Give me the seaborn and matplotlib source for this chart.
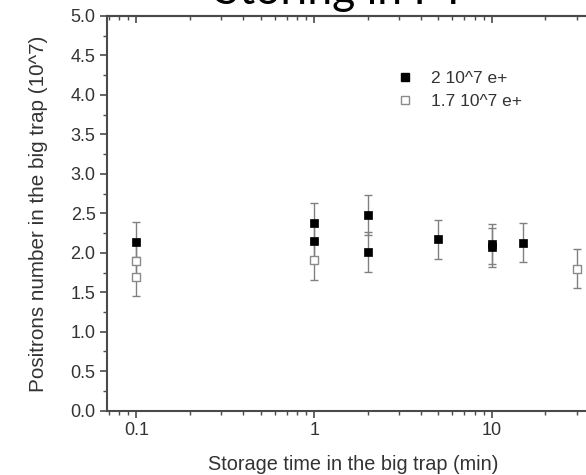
import numpy as np
import pandas as pd
import matplotlib
matplotlib.use("Agg")
import matplotlib.pyplot as plt
import seaborn as sns
from matplotlib.ticker import LogLocator, MultipleLocator, FixedLocator, NullFormatter
from matplotlib.lines import Line2D

# ---- data ----
filled_time = [0.1, 1, 1, 2, 2, 5, 10, 10, 15]
filled_n = [2.14, 2.38, 2.15, 2.48, 2.01, 2.17, 2.11, 2.07, 2.13]
filled_err = [0.25, 0.25, 0.25, 0.25, 0.25, 0.25, 0.25, 0.25, 0.25]

open_time = [0.1, 0.1, 1, 30]
open_n = [1.90, 1.70, 1.91, 1.80]
open_err = [0.25, 0.25, 0.25, 0.25]

x_ticks = [0.1, 1, 10]
x_ticklabels = ["0.1", "1", "10"]

df_filled = pd.DataFrame({"time": filled_time, "n": filled_n, "err": filled_err})
df_open = pd.DataFrame({"time": open_time, "n": open_n, "err": open_err})

sns.set_style("ticks")
plt.rcParams['font.family'] = ['Liberation Sans', 'DejaVu Sans']

W, H = 586, 475
fig = plt.figure(figsize=(W / 100, H / 100), dpi=100)

xmin, xmax = 0.068, 40
decade_px = 177.7
left_px, bottom_px, top_px = 106.7, 410.7, 16
width_px = np.log10(xmax / xmin) * decade_px
ax = fig.add_axes([left_px / W, 1 - bottom_px / H, width_px / W, (bottom_px - top_px) / H])

axis_col = "#4a4a4a"
err_col = "#808080"
text_col = "#333333"

# error bars first
ax.errorbar(df_open["time"], df_open["n"], yerr=df_open["err"], fmt="none",
            ecolor=err_col, elinewidth=1.0, capsize=3, capthick=1.0, zorder=2)
ax.errorbar(df_filled["time"], df_filled["n"], yerr=df_filled["err"], fmt="none",
            ecolor=err_col, elinewidth=1.0, capsize=3, capthick=1.0, zorder=2)

sns.scatterplot(data=df_open, x="time", y="n", ax=ax, marker="s", s=28,
                facecolor="white", edgecolor="#8a8a8a", linewidth=1.0, zorder=3)
sns.scatterplot(data=df_filled, x="time", y="n", ax=ax, marker="s", s=30,
                color="black", edgecolor="black", linewidth=0.5, zorder=4)

ax.set_xscale("log")
ax.set_xlim(xmin, xmax)
ax.set_ylim(0, 5.0)

ax.xaxis.set_major_locator(FixedLocator(x_ticks))
ax.set_xticklabels(x_ticklabels)
ax.xaxis.set_minor_locator(LogLocator(base=10, subs=np.arange(2, 10)))
ax.xaxis.set_minor_formatter(NullFormatter())
ax.yaxis.set_major_locator(MultipleLocator(0.5))
ax.yaxis.set_minor_locator(MultipleLocator(0.25))
ax.yaxis.set_major_formatter(matplotlib.ticker.FormatStrFormatter("%.1f"))

ax.tick_params(axis="both", which="major", direction="out", length=5, width=1.2,
               colors=axis_col, labelsize=13, labelcolor=text_col)
ax.tick_params(axis="both", which="minor", direction="out", length=3, width=1.0,
               colors=axis_col)
ax.tick_params(axis="x", which="major", pad=3)
ax.tick_params(axis="y", which="major", pad=3)

for sp in ax.spines.values():
    sp.set_color(axis_col)
    sp.set_linewidth(1.5)

# mirrored ticks on the top spine, pointing inwards
top = ax.secondary_xaxis("top")
top.xaxis.set_major_locator(FixedLocator(x_ticks))
top.xaxis.set_minor_locator(LogLocator(base=10, subs=np.arange(2, 10)))
top.xaxis.set_major_formatter(NullFormatter())
top.xaxis.set_minor_formatter(NullFormatter())
top.tick_params(which="major", direction="in", length=5, width=1.2, colors=axis_col)
top.tick_params(which="minor", direction="in", length=3, width=1.0, colors=axis_col)
top.spines["top"].set_color(axis_col)
top.spines["top"].set_linewidth(1.5)

ax.set_xlabel("Storage time in the big trap (min)", fontsize=14.3, color=text_col, labelpad=12)
ax.set_ylabel("Positrons number in the big trap (10^7)", fontsize=14.9, color=text_col, labelpad=16)

handles = [
    Line2D([], [], marker="s", linestyle="none", markersize=5.5, markerfacecolor="black",
           markeredgecolor="black"),
    Line2D([], [], marker="s", linestyle="none", markersize=5.5, markerfacecolor="white",
           markeredgecolor="#8a8a8a"),
]
ax.legend(handles, ["2 10^7 e+", "1.7 10^7 e+"], loc="upper left",
          bbox_to_anchor=(372 / W, 1 - 55 / H), bbox_transform=fig.transFigure,
          frameon=False, fontsize=12.5, handletextpad=0.5, labelspacing=0.45,
          labelcolor=text_col)

# title, mostly cut off by the top of the picture
fig.text(215 / W, 1 - 4.5 / H, "Storing in PT", family=["Lato", "DejaVu Sans"],
         fontsize=32, ha="left", va="baseline", color="black")

plt.savefig("out.png", dpi=100)
